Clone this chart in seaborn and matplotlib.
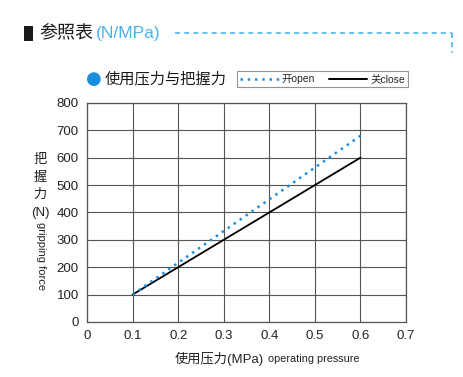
import matplotlib
matplotlib.use("Agg")
import matplotlib.pyplot as plt
import seaborn as sns
import pandas as pd
from matplotlib.lines import Line2D
from matplotlib.patches import Rectangle

pressure = [0.1, 0.2, 0.3, 0.4, 0.5, 0.6]
open_force = [100, 216, 332, 448, 564, 680]
close_force = [100, 200, 300, 400, 500, 600]
x_ticks = [0, 0.1, 0.2, 0.3, 0.4, 0.5, 0.6, 0.7]
y_ticks = [0, 100, 200, 300, 400, 500, 600, 700, 800]
ylabel_cjk = ["把", "握", "力", "(N)"]

sns.set_style("white")
plt.rcParams['font.family'] = ['Liberation Sans', 'Noto Sans CJK SC']

df = pd.DataFrame({"p": pressure + pressure,
                   "f": open_force + close_force,
                   "s": ["open"] * len(pressure) + ["close"] * len(pressure)})

W, H = 463, 377
fig = plt.figure(figsize=(W / 100, H / 100), dpi=100)
ax = fig.add_axes([0.188, 0.146, 0.689, 0.581])

BLUE = "#1a8fe0"
DOT = (0, (1, 1.9))
sns.lineplot(data=df[df.s == "close"], x="p", y="f", color="black", lw=1.3, ax=ax, legend=False)
sns.lineplot(data=df[df.s == "open"], x="p", y="f", color=BLUE, lw=1.8,
             linestyle=DOT, ax=ax, legend=False)

ax.set_xlim(0, 0.7)
ax.set_ylim(0, 800)
ax.set_xticks(x_ticks)
ax.set_xticklabels(["0" if v == 0 else f"{v:.1f}" for v in x_ticks])
ax.set_yticks(y_ticks)
ax.grid(True, color="#555555", lw=0.8)
for s in ax.spines.values():
    s.set_color("#555555")
    s.set_linewidth(0.9)
ax.tick_params(axis="both", length=0, labelsize=9.5, pad=6, colors="#222222")
ax.set_xlabel("")
ax.set_ylabel("")

fig.text(0.569, 0.048, "使用压力(MPa)", fontsize=9.5, ha="right", va="center", color="#222222")
fig.text(0.579, 0.048, "operating pressure", fontsize=7.8, ha="left", va="center", color="#222222")

for i, ch in enumerate(ylabel_cjk):
    fig.text(40 / W, 1 - (160 + i * 17.5) / H, ch, fontsize=9.5, ha="center", va="center",
             color="#222222")
fig.text(41 / W, 1 - 256 / H, "gripping force", fontsize=8, ha="center", va="center",
         rotation=270, color="#222222")

# Header
fig.add_artist(Rectangle((24 / W, 1 - 41 / H), 9 / W, 15 / H, transform=fig.transFigure,
                         facecolor="#1a1a1a", edgecolor="none"))
fig.text(0.084, 0.912, "参照表", fontsize=13, ha="left", va="center", color="#1a1a1a")
fig.text(0.207, 0.912, "(N/MPa)", fontsize=12.5, ha="left", va="center", color="#49b4ec")
fig.add_artist(Line2D([0.378, 0.977], [0.912, 0.912], transform=fig.transFigure,
                      color="#49b4ec", lw=1.2, linestyle=(0, (3, 2.5))))
fig.add_artist(Line2D([0.977, 0.977], [0.912, 0.86], transform=fig.transFigure,
                      color="#49b4ec", lw=1.2, linestyle=(0, (3, 2.5))))

# Subtitle
fig.text(0.185, 0.79, "\u25CF", fontsize=13, ha="left", va="center", color=BLUE,
         family=['DejaVu Sans'])
fig.text(0.225, 0.79, "使用压力与把握力", fontsize=11, ha="left", va="center", color="#1a1a1a")

# Legend box
handles = [Line2D([0], [0], color=BLUE, lw=1.8, linestyle=DOT),
           Line2D([0], [0], color="black", lw=1.4)]
leg = fig.legend(handles, ["开open", "关close"], loc="center", bbox_to_anchor=(0.697, 0.79),
                 ncol=2, fontsize=7.5, frameon=True, fancybox=False, edgecolor="#777777",
                 handlelength=3.7, handletextpad=0.3, columnspacing=1.3,
                 borderpad=0.3, borderaxespad=0)
leg.get_frame().set_linewidth(0.8)

fig.savefig("out.png", dpi=100)
